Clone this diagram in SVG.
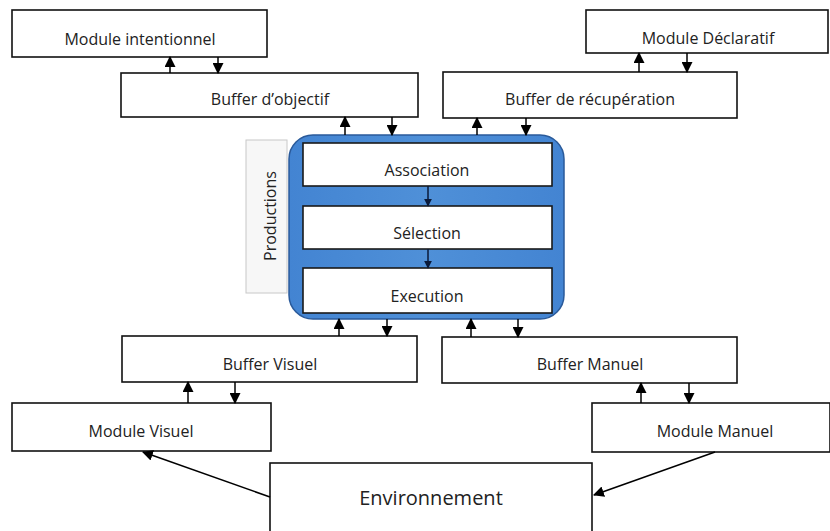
<svg xmlns="http://www.w3.org/2000/svg" width="830" height="531" viewBox="0 0 830 531">
<defs>
<marker id="ah" viewBox="0 0 10 10" refX="9" refY="5" markerWidth="11" markerHeight="11" markerUnits="userSpaceOnUse" orient="auto">
<path d="M0,0 L10,5 L0,10 z" fill="#000"/>
</marker>
<marker id="ahs" viewBox="0 0 10 10" refX="9" refY="5" markerWidth="8" markerHeight="8" markerUnits="userSpaceOnUse" orient="auto">
<path d="M0,0 L10,5 L0,10 z" fill="#0a1a3a"/>
</marker>
<linearGradient id="blue" x1="0" y1="0" x2="1" y2="0">
<stop offset="0" stop-color="#4384d2"/>
<stop offset="0.5" stop-color="#4f90d8"/>
<stop offset="1" stop-color="#4384d2"/>
</linearGradient>
</defs>
<style>
.box{fill:#fff;stroke:#111;stroke-width:1.6}
.inner{fill:#fff;stroke:#1a1a1a;stroke-width:1.6}
text{font-family:"Open Sans","Liberation Sans",sans-serif;font-size:16px;fill:#222;text-anchor:middle;dominant-baseline:central}
.big{font-size:20px}
.c line{stroke:#000;stroke-width:1.5;marker-end:url(#ah)}
.c line.s{stroke:#0a1a3a;stroke-width:1.5;marker-end:url(#ahs)}
</style>
<rect width="830" height="531" fill="#fff"/>

<g id="module-intentionnel"><rect class="box" x="12" y="10" width="255" height="47"/><text x="140" y="39">Module intentionnel</text></g>
<g id="buffer-objectif"><rect class="box" x="121" y="73" width="297" height="44"/><text x="270" y="99">Buffer d’objectif</text></g>
<g id="module-declaratif"><rect class="box" x="586" y="10" width="242" height="43"/><text x="708" y="38">Module Déclaratif</text></g>
<g id="buffer-recuperation"><rect class="box" x="443" y="72" width="294" height="46"/><text x="590" y="99">Buffer de récupération</text></g>

<g id="productions"><rect x="246" y="140" width="41" height="153" fill="#f7f7f7" stroke="#c8c8c8" stroke-width="1"/><text transform="translate(270,216) rotate(-90)" font-size="16">Productions</text></g>

<g id="central">
<rect x="289" y="135" width="275" height="184" rx="24" ry="24" fill="url(#blue)" stroke="#2a5a9a" stroke-width="1.5"/>
<g id="association"><rect class="inner" x="303" y="143" width="249" height="43"/><text x="427" y="170">Association</text></g>
<g id="selection"><rect class="inner" x="303" y="206" width="249" height="43"/><text x="427" y="233">Sélection</text></g>
<g id="execution"><rect class="inner" x="303" y="268" width="249" height="45"/><text x="427" y="296">Execution</text></g>
</g>

<g id="buffer-visuel"><rect class="box" x="122" y="336" width="295" height="46"/><text x="270" y="364">Buffer Visuel</text></g>
<g id="module-visuel"><rect class="box" x="12" y="403" width="259" height="48"/><text x="141" y="431">Module Visuel</text></g>
<g id="buffer-manuel"><rect class="box" x="442" y="337" width="295" height="46"/><text x="590" y="364">Buffer Manuel</text></g>
<g id="module-manuel"><rect class="box" x="592" y="403" width="238" height="49"/><text x="715" y="431">Module Manuel</text></g>
<g id="environnement"><rect class="box" x="270" y="463" width="322" height="70"/><text class="big" x="431" y="497">Environnement</text></g>

<g class="c" id="connectors">
<line x1="170" y1="73" x2="170" y2="57"/>
<line x1="218" y1="57" x2="218" y2="73"/>
<line x1="345" y1="135" x2="345" y2="117"/>
<line x1="392" y1="117" x2="392" y2="135"/>
<line x1="639" y1="72" x2="639" y2="53"/>
<line x1="687" y1="53" x2="687" y2="72"/>
<line x1="477" y1="135" x2="477" y2="118"/>
<line x1="526" y1="118" x2="526" y2="135"/>
<line class="s" x1="428" y1="186" x2="428" y2="206"/>
<line class="s" x1="428" y1="249" x2="428" y2="268"/>
<line x1="339" y1="336" x2="339" y2="319"/>
<line x1="387" y1="319" x2="387" y2="336"/>
<line x1="471" y1="337" x2="471" y2="319"/>
<line x1="518" y1="319" x2="518" y2="337"/>
<line x1="188" y1="403" x2="188" y2="382"/>
<line x1="235" y1="382" x2="235" y2="403"/>
<line x1="641" y1="403" x2="641" y2="383"/>
<line x1="689" y1="383" x2="689" y2="403"/>
<line x1="270" y1="497" x2="143" y2="452"/>
<line x1="715" y1="452" x2="594" y2="495"/>
</g>
</svg>
